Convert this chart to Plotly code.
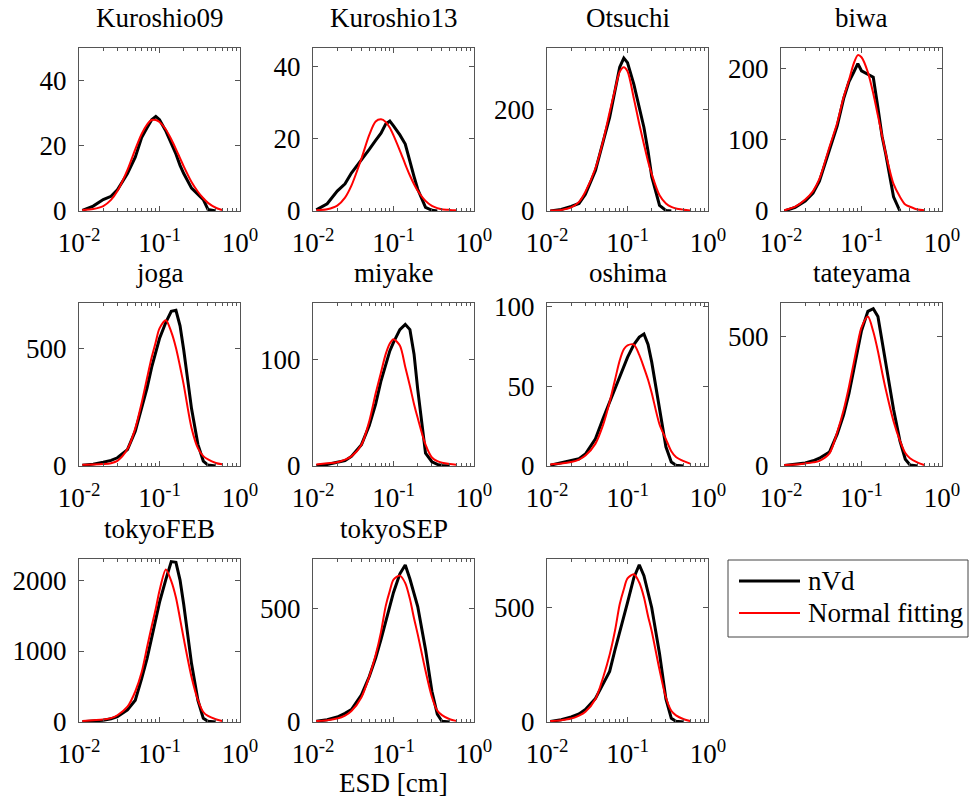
import plotly.graph_objects as go

# Equivalent spherical diameter bins [cm]
esd_cm = [0.011, 0.015, 0.02, 0.025, 0.03, 0.04, 0.05, 0.06, 0.07, 0.08, 0.09, 0.10,
          0.12, 0.14, 0.16, 0.18, 0.20, 0.25, 0.30, 0.35, 0.40, 0.50, 0.60]

site_names = ["Kuroshio09", "Kuroshio13", "Otsuchi", "biwa", "joga", "miyake",
              "oshima", "tateyama", "tokyoFEB", "tokyoSEP", ""]

# number-volume distributions (nVd)
nvd_kuroshio09 = [0.2, 1.5, 3.5, 4.5, 6.5, 11.5, 16.5, 22.5, 25.5, 28.0, 29.0, 28.0,
                  24.5, 21.0, 17.5, 14.0, 11.5, 7.0, 5.0, 3.5, 0.5, 0.0, None]
nvd_kuroshio13 = [0.3, 2.0, 5.5, 7.5, 10.5, 14.0, 17.0, 19.5, 21.5, 24.0, 24.8, 23.5,
                  21.0, 18.5, 13.5, 9.5, 6.0, 1.0, 0.2, 0.0, None, None, None]
nvd_otsuchi = [0, 3, 9, 15, 33, 80, 138, 185, 238, 284, 302, 293,
               250, 207, 165, 118, 68, 11, 1, 0, None, None, None]
nvd_biwa = [0, 5, 14, 25, 42, 85, 120, 158, 182, 195, 207, 197,
            192, 188, 145, 105, 80, 20, 0, None, None, None, None]
nvd_joga = [3, 8, 16, 24, 35, 70, 148, 246, 331, 420, 480, 542,
            611, 658, 662, 596, 493, 244, 92, 21, 4, 0, None]
nvd_miyake = [0.5, 1.5, 3.5, 5, 9, 20, 38, 58, 80, 95, 108, 116,
              128, 133, 128, 105, 72, 12, 4, 1.5, 0.5, 0, None]
nvd_oshima = [0.5, 2, 3, 4.5, 7.5, 17, 30, 40, 48.6, 56, 62.5, 68,
              76, 80.7, 82.6, 76, 65, 34.6, 12, 2.5, 0.5, 0, None]
nvd_tateyama = [2, 6, 12, 20, 30, 54, 124, 197, 281, 371, 448, 522,
                597, 607, 577, 486, 400, 219, 97, 26, 4, 0, None]
nvd_tokyofeb = [5, 15, 25, 45, 75, 170, 306, 612, 894, 1190, 1454, 1685,
                2009, 2260, 2250, 2000, 1656, 823, 306, 52, 9, 0, None]
nvd_tokyosep = [3, 10, 22, 38, 55, 119, 200, 281, 363, 443, 516, 569,
                651, 690, 628, 565, 507, 318, 135, 34, 3, 0, None]
nvd_all = [2, 10, 22, 35, 55, 103, 168, 221, 316, 398, 463, 522,
           631, 688, 640, 569, 500, 299, 101, 16, 3, 0, None]

# normal fitting curves
fit_kuroshio09 = [0.3, 0.6, 1.5, 3.4, 6.1, 12.6, 18.9, 23.6, 26.5, 27.9, 27.9, 27.3,
                  25.0, 22.0, 19.0, 16.2, 13.7, 8.9, 5.9, 3.9, 2.5, 1.0, 0.3]
fit_kuroshio13 = [0.2, 0.5, 1.5, 3.7, 7.0, 14.5, 21.0, 24.7, 25.3, 24.6, 23.0, 20.9,
                  16.7, 12.9, 9.8, 7.4, 5.6, 2.8, 1.4, 0.8, 0.5, 0.3, 0.2]
fit_otsuchi = [1, 2, 7, 18, 38, 85, 140, 195, 240, 275, 284, 276,
               222, 172, 132, 98, 73, 31, 15, 8, 5, 2.5, 1]
fit_biwa = [1, 6, 16, 28, 45, 90, 124, 160, 184, 207, 219, 216,
            195, 165, 134, 106, 81, 38, 20, 9, 6, 2, 1]
fit_joga = [5, 6, 8, 12, 22, 72, 160, 268, 373, 462, 528, 585,
            620, 570, 503, 423, 345, 162, 76, 42, 28, 13, 7]
fit_miyake = [1.5, 2.5, 3.5, 6, 9, 20, 42, 68, 88, 105, 115, 119,
              113, 93, 75, 58, 45, 20, 8, 4.5, 3, 1.8, 1.2]
fit_oshima = [1, 1.5, 2.5, 4, 6.5, 14, 26, 40, 54, 66, 73, 75.5,
              76, 69.5, 61.6, 54, 45.7, 26, 16.8, 9.2, 5.6, 3, 1.5]
fit_tateyama = [4, 6, 10, 14, 20, 49, 131, 216, 307, 397, 476, 535,
                577, 519, 443, 363, 296, 173, 98, 50, 30, 13, 4]
fit_tokyofeb = [15, 25, 35, 55, 95, 215, 430, 700, 1050, 1350, 1600, 1850,
                2150, 1986, 1755, 1454, 1176, 635, 310, 141, 85, 38, 14]
fit_tokyosep = [4, 8, 15, 28, 48, 109, 200, 294, 396, 509, 576, 625,
                643, 610, 540, 455, 385, 225, 110, 50, 30, 12, 5]
fit_all = [4, 8, 15, 28, 45, 101, 197, 294, 400, 515, 581, 628,
           646, 610, 546, 463, 397, 228, 107, 49, 29, 12, 4]

nvd_series = [nvd_kuroshio09, nvd_kuroshio13, nvd_otsuchi, nvd_biwa, nvd_joga, nvd_miyake,
              nvd_oshima, nvd_tateyama, nvd_tokyofeb, nvd_tokyosep, nvd_all]
fit_series = [fit_kuroshio09, fit_kuroshio13, fit_otsuchi, fit_biwa, fit_joga, fit_miyake,
              fit_oshima, fit_tateyama, fit_tokyofeb, fit_tokyosep, fit_all]

# y-axis limits and tick spacing per panel
y_upper = [50, 45, 322, 229, 693, 153, 102, 629, 2297, 716, 713]
y_step = [20, 20, 200, 100, 500, 100, 50, 500, 1000, 500, 500]

x_tickvals = [0.01, 0.1, 1]
x_ticktext = ["10<sup>-2</sup>", "10<sup>-1</sup>", "10<sup>0</sup>"]
x_minor = [m * 10.0 ** e for e in (-2, -1) for m in range(2, 10)]

W, H = 970, 805
col_left = [79, 313, 547, 781]
row_top = [48, 303, 559]
pw, ph = 161, 163
FONT = "Liberation Serif"
FS = 27
AX = "#555555"


def px_x(v):
    return v / W


def px_y(v):
    return 1 - v / H


fig = go.Figure()
layout_axes = {}
annotations = []

for i, (name, nv, ft, ytop, ystep) in enumerate(zip(site_names, nvd_series, fit_series,
                                                      y_upper, y_step)):
    r, c = divmod(i, 4)
    n = i + 1
    sfx = "" if n == 1 else str(n)
    fig.add_trace(go.Scatter(x=esd_cm, y=nv, xaxis="x" + sfx, yaxis="y" + sfx,
                             mode="lines", name="nVd", showlegend=False,
                             line=dict(color="black", width=3)))
    fig.add_trace(go.Scatter(x=esd_cm, y=ft, xaxis="x" + sfx, yaxis="y" + sfx,
                             mode="lines", name="Normal fitting", showlegend=False,
                             line=dict(color="red", width=2, shape="spline", smoothing=0.8)))
    left, top = col_left[c], row_top[r]
    layout_axes["xaxis" + sfx] = dict(
        domain=[px_x(left), px_x(left + pw)], anchor="y" + sfx, automargin=False,
        type="log", range=[-2, 0], tickvals=x_tickvals, ticktext=x_ticktext,
        ticks="inside", ticklen=5, tickcolor=AX, tickwidth=1,
        showline=True, linecolor=AX, linewidth=1, mirror="ticks",
        showgrid=False, zeroline=False, ticklabelstandoff=8,
        minor=dict(tickvals=x_minor, ticks="inside", ticklen=3, tickcolor=AX, showgrid=False),
        tickfont=dict(family=FONT, size=FS, color="black"),
    )
    layout_axes["yaxis" + sfx] = dict(
        domain=[px_y(top + ph), px_y(top)], anchor="x" + sfx, automargin=False,
        range=[0, ytop], tick0=0, dtick=ystep,
        ticks="inside", ticklen=5, tickcolor=AX, tickwidth=1,
        showline=True, linecolor=AX, linewidth=1, mirror="ticks",
        showgrid=False, zeroline=False, ticklabelstandoff=6,
        tickfont=dict(family=FONT, size=FS, color="black"),
    )
    if name:
        annotations.append(dict(text=name, xref="paper", yref="paper",
                                x=px_x(left + pw / 2), y=px_y(top - 30),
                                xanchor="center", yanchor="middle", showarrow=False,
                                font=dict(family=FONT, size=FS, color="black")))

annotations.append(dict(text="ESD [cm]", xref="paper", yref="paper",
                        x=px_x(col_left[1] + pw / 2), y=px_y(783),
                        xanchor="center", yanchor="middle", showarrow=False,
                        font=dict(family=FONT, size=FS, color="black")))

# legend box
legend_items = [("nVd", "black", 3, 581), ("Normal fitting", "red", 2, 613)]
shapes = [dict(type="rect", xref="paper", yref="paper",
               x0=px_x(728), x1=px_x(968), y0=px_y(637), y1=px_y(560),
               line=dict(color="#444444", width=1), fillcolor="white")]
for label, color, width, yc in legend_items:
    shapes.append(dict(type="line", xref="paper", yref="paper",
                       x0=px_x(739), x1=px_x(800), y0=px_y(yc), y1=px_y(yc),
                       line=dict(color=color, width=width)))
    annotations.append(dict(text=label, xref="paper", yref="paper",
                            x=px_x(806), y=px_y(yc), xanchor="left", yanchor="middle",
                            showarrow=False,
                            font=dict(family=FONT, size=FS, color="black")))

fig.update_layout(
    width=W, height=H,
    margin=dict(l=0, r=0, t=0, b=0, pad=0, autoexpand=False),
    paper_bgcolor="white", plot_bgcolor="white",
    font=dict(family=FONT, size=FS, color="black"),
    annotations=annotations, shapes=shapes,
    **layout_axes,
)

fig.write_html("out.html")
